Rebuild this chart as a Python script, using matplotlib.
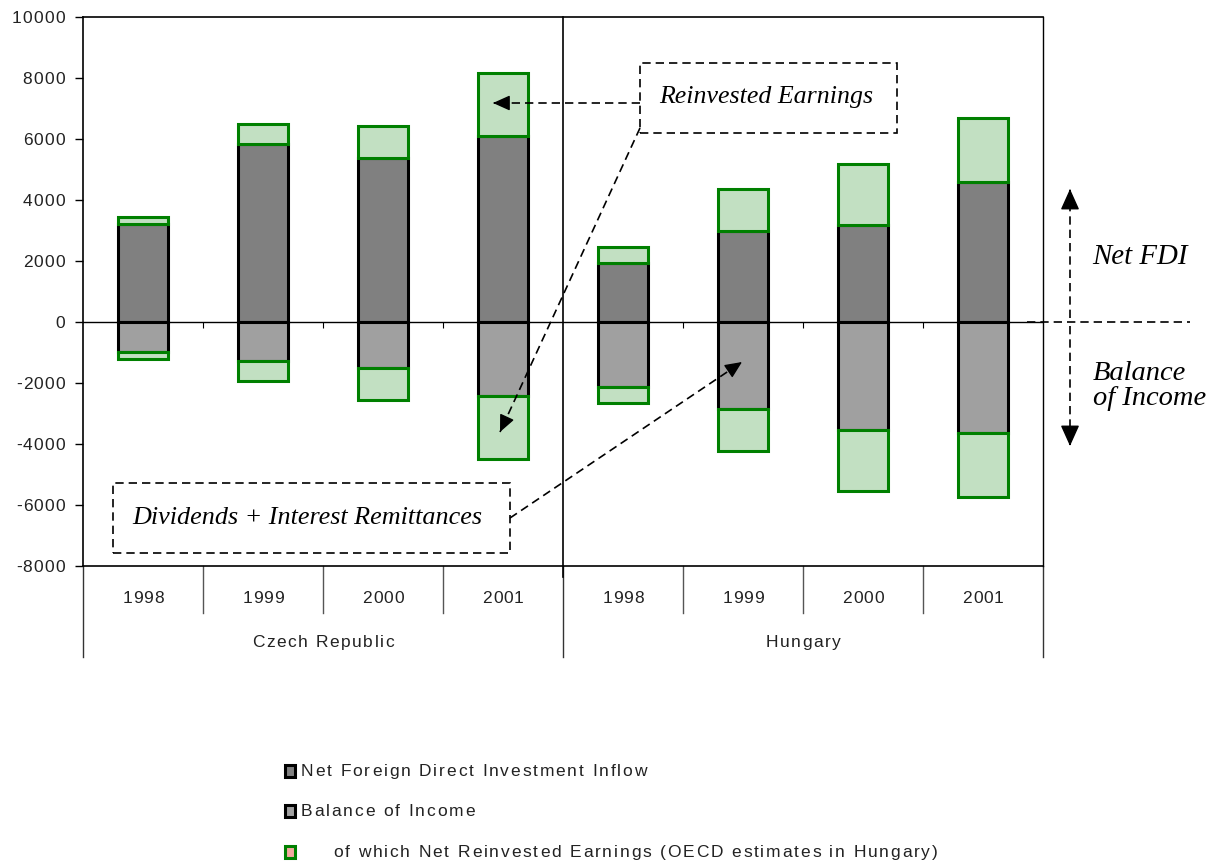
import matplotlib
matplotlib.use("Agg")
import matplotlib.pyplot as plt
from matplotlib.patches import Rectangle, FancyArrowPatch
from matplotlib.font_manager import FontProperties, findfont
from matplotlib import ft2font
import matplotlib.transforms as mtransforms

# ---- data (USD millions) ----
countries = ["Czech Republic", "Hungary"]
years = ["1998", "1999", "2000", "2001"]
net_fdi = [3450, 6490, 6420, 8160, 2460, 4360, 5180, 6690]          # total net FDI inflow
reinvested = [250, 670, 1050, 2050, 525, 1380, 2000, 2100]          # of which reinvested earnings
balance_income = [-1220, -1940, -2560, -4490, -2650, -4220, -5540, -5740]  # balance of income

yticks = list(range(-8000, 10001, 2000))
legend_labels = ["Net Foreign Direct Investment Inflow",
                 "Balance of Income",
                 "of which Net Reinvested Earnings (OECD estimates in Hungary)"]

DARK = "#808080"
LIGHT = "#a0a0a0"
GREEN_FILL = "#c2e0c2"
GREEN_EDGE = "#008000"
TXT = "#222222"

W, H = 1219, 866
DPI = 100
SANS = "Liberation Sans"
plt.rcParams["font.family"] = [SANS, "DejaVu Sans"]
fig = plt.figure(figsize=(W / DPI, H / DPI), dpi=DPI)

def fx(px):
    return px / W

def fy(py):
    return 1 - py / H

# --- letter-spaced text helper (reference uses tracked Arial-like text) ---
_font = ft2font.FT2Font(findfont(FontProperties(family=SANS)))
try:
    _NOHINT = ft2font.LoadFlags.NO_HINTING
except AttributeError:
    _NOHINT = ft2font.LOAD_NO_HINTING

def _advances(s, size):
    _font.set_size(size, DPI)
    out = []
    for c in s:
        g = _font.load_char(ord(c), flags=_NOHINT)
        out.append(g.linearHoriAdvance / 65536.0)
    return out

def ttext(xp, yc, s, size=12.5, track=1.5, ha="left", color=TXT):
    adv = _advances(s, size)
    total = sum(adv) + track * (len(s) - 1)
    if ha == "center":
        x0 = xp - total / 2
    elif ha == "right":
        x0 = xp - total
    else:
        x0 = xp
    base = yc + 0.358 * size * DPI / 72
    xcur = x0
    for c, a in zip(s, adv):
        if c != " ":
            fig.text(fx(xcur), fy(base), c, fontsize=size, family=SANS, va="baseline",
                     ha="left", color=color)
        xcur += a + track

ax = fig.add_axes([fx(83), fy(566), fx(1043) - fx(83), fy(17) - fy(566)])
n = len(net_fdi)
x = list(range(n))
bw = 0.42

fdi_base = [f - r for f, r in zip(net_fdi, reinvested)]
inc_base = [b + r for b, r in zip(balance_income, reinvested)]

ax.bar(x, fdi_base, width=bw, color=DARK, edgecolor="black", linewidth=2.2, zorder=3)
ax.bar(x, reinvested, bottom=fdi_base, width=bw, color=GREEN_FILL, edgecolor=GREEN_EDGE,
       linewidth=2.2, zorder=4)
ax.bar(x, inc_base, width=bw, color=LIGHT, edgecolor="black", linewidth=2.2, zorder=3)
ax.bar(x, [-r for r in reinvested], bottom=inc_base, width=bw, color=GREEN_FILL,
       edgecolor=GREEN_EDGE, linewidth=2.2, zorder=4)

ax.set_xlim(-0.5, n - 0.5)
ax.set_ylim(-8000, 10000)
ax.set_yticks(yticks)
ax.set_yticklabels([""] * len(yticks))
ax.tick_params(axis="y", direction="out", length=6, width=1, pad=0)
ax.set_xticks([])
for s in ["top", "right", "left", "bottom"]:
    ax.spines[s].set_linewidth(1.2)
    ax.spines[s].set_color("black")
ax.spines["right"].set_linewidth(1.0)

# y tick labels, placed through the axis scale
fig.canvas.draw()
for v in yticks:
    _, ypix = ax.transData.transform((0, v))
    ttext(65, H - ypix, str(v), size=12.5, track=1.2, ha="right")

# zero line with small ticks at category boundaries
ax.axhline(0, color="black", linewidth=1.0, zorder=5)
for b in [0.5, 1.5, 2.5, 4.5, 5.5, 6.5]:
    ax.vlines(b, -200, 0, color="black", linewidth=0.8, zorder=5)
# country divider
trans = mtransforms.blended_transform_factory(ax.transData, ax.transAxes)
ax.plot([3.5, 3.5], [-0.02, 1], color="black", linewidth=1.2, transform=trans, clip_on=False, zorder=6)

# category axis labels below plot
y_year_sep = (566 - 613) / 549
y_grp_sep = (566 - 657) / 549
for b in [0.5, 1.5, 2.5, 4.5, 5.5, 6.5]:
    ax.plot([b, b], [0, y_year_sep], color="#555555", linewidth=1.0, transform=trans, clip_on=False)
for b in [-0.5, 3.5, 7.5]:
    ax.plot([b, b], [0, y_grp_sep], color="#333333", linewidth=1.0, transform=trans, clip_on=False)
for i in range(n):
    xpix, _ = ax.transData.transform((i, 0))
    ttext(xpix, 597, years[i % 4], size=12.5, track=0.9, ha="center")
for g, c in enumerate(countries):
    xpix, _ = ax.transData.transform((1.5 + 4 * g, 0))
    ttext(xpix, 641, c, size=12.5, track=1.6, ha="center")

# ---- annotations (figure pixel positions) ----
serif = ["Liberation Serif", "DejaVu Serif"]
DASH = (0, (5, 3))

def dashed_box(x0, y0, x1, y1):
    r = Rectangle((fx(x0), fy(y1)), fx(x1) - fx(x0), fy(y0) - fy(y1), transform=fig.transFigure,
                  fill=False, edgecolor="black", linestyle=DASH, linewidth=1.2)
    fig.add_artist(r)

def dashed_line(p0, p1):
    fig.add_artist(plt.Line2D([fx(p0[0]), fx(p1[0])], [fy(p0[1]), fy(p1[1])],
                              transform=fig.transFigure, color="black", linestyle=DASH,
                              linewidth=1.2))

def head(p_from, p_to, size=1.0):
    a = FancyArrowPatch((fx(p_from[0]), fy(p_from[1])), (fx(p_to[0]), fy(p_to[1])),
                        transform=fig.transFigure,
                        arrowstyle="-|>,head_length=%.2f,head_width=%.2f" % (0.8 * size, 0.36 * size),
                        mutation_scale=13, linewidth=1.0, color="black",
                        shrinkA=0, shrinkB=0)
    fig.add_artist(a)

def dashed_arrow(p0, p1, size=1.0):
    dashed_line(p0, p1)
    dx, dy = p1[0] - p0[0], p1[1] - p0[1]
    L = (dx ** 2 + dy ** 2) ** 0.5
    pre = (p1[0] - dx / L * 3, p1[1] - dy / L * 3)
    head(pre, p1, size)

dashed_box(640, 63, 897, 133)
fig.text(fx(766), fy(97), "Reinvested Earnings", family=serif, style="italic", fontsize=18.6,
         ha="center", va="center")
dashed_arrow((640, 103), (493, 103))
dashed_arrow((640, 128), (500, 432))

dashed_box(113, 483, 510, 553)
fig.text(fx(307), fy(518), "Dividends + Interest Remittances", family=serif, style="italic",
         fontsize=18.8, ha="center", va="center")
dashed_arrow((510, 518), (742, 362))

dashed_line((1027, 322), (1190, 322))
dashed_arrow((1070, 318), (1070, 189), 1.25)
dashed_arrow((1070, 326), (1070, 446), 1.25)
fig.text(fx(1092), fy(257), "Net FDI", family=serif, style="italic", fontsize=20.8,
         ha="left", va="center")
fig.text(fx(1093), fy(386), "Balance\nof Income", family=serif, style="italic", fontsize=20.5,
         ha="left", va="center", linespacing=1.0)

# ---- legend ----
leg_items = [(DARK, "black", 301), (LIGHT, "black", 301), ("#f4a8a0", GREEN_EDGE, 333)]
leg_y = [770, 810, 851]
for (fc, ec, tx), ly, lab in zip(leg_items, leg_y, legend_labels):
    r = Rectangle((fx(284.5), fy(ly + 7)), fx(10), fy(0) - fy(12), transform=fig.transFigure,
                  facecolor=fc, edgecolor=ec, linewidth=2.2)
    fig.add_artist(r)
    ttext(tx, ly, lab, size=12.5, track=1.85, ha="left")

fig.savefig("out.png", dpi=DPI)
